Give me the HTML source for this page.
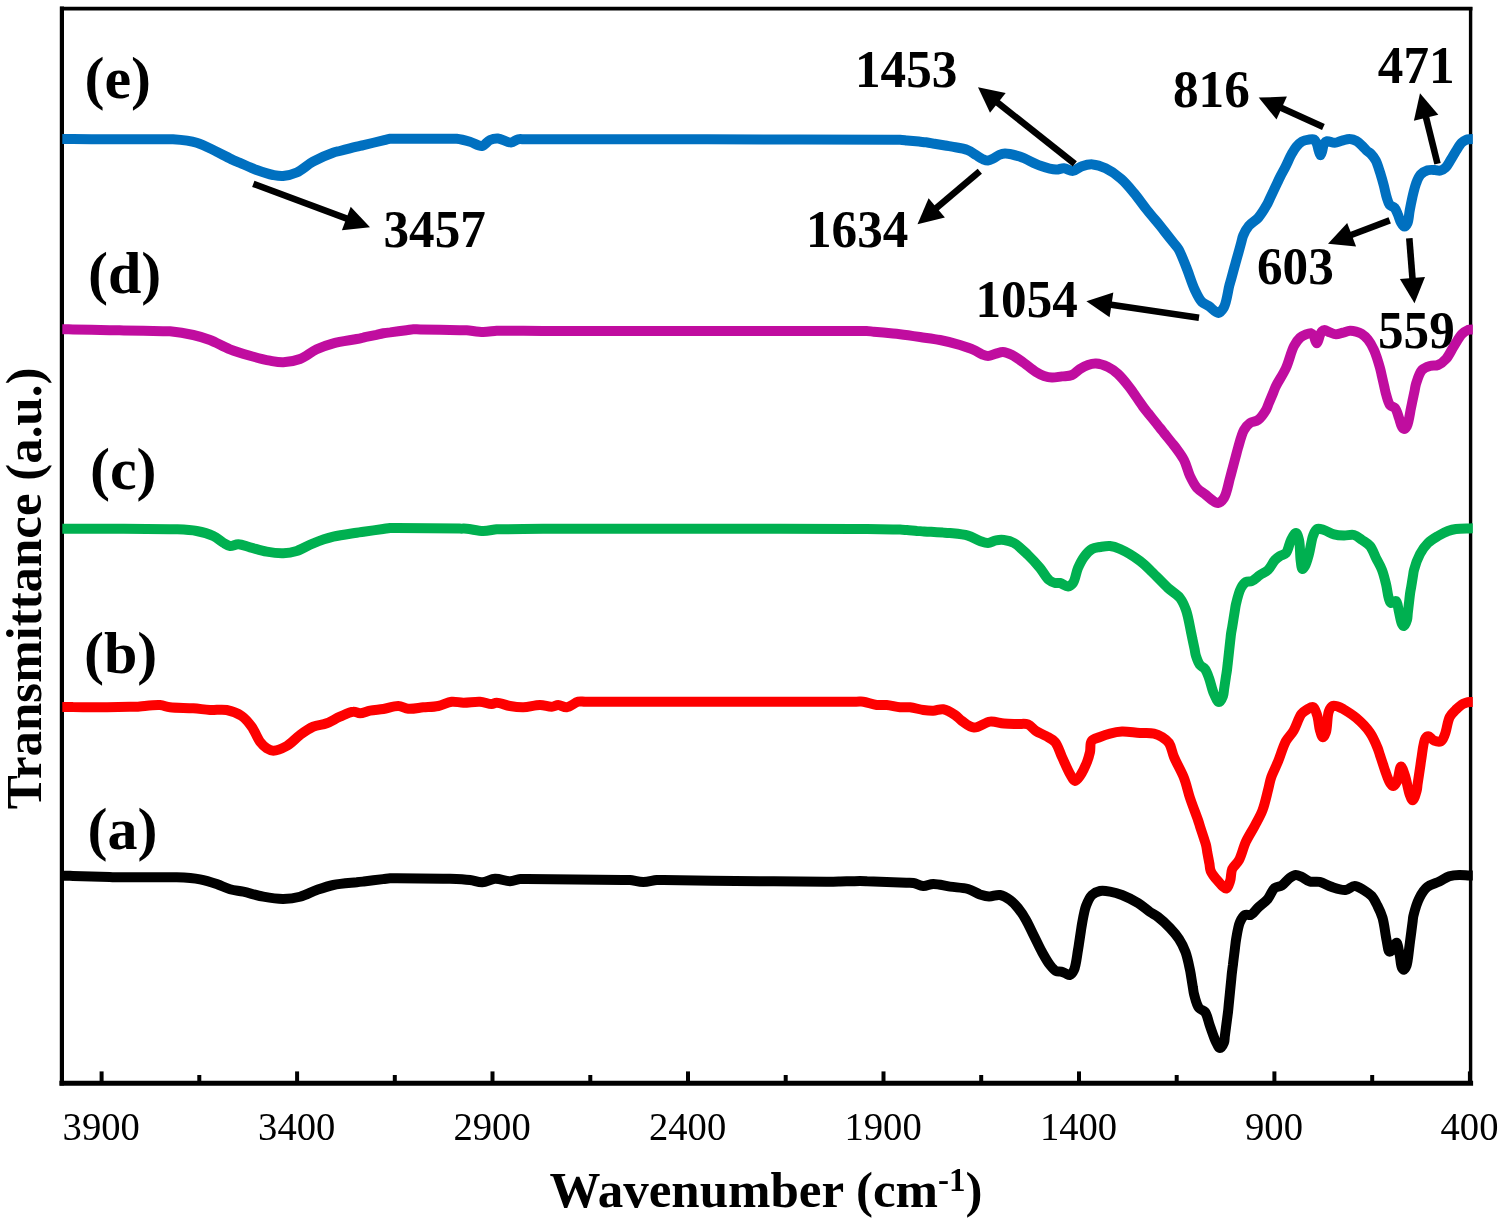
<!DOCTYPE html>
<html lang="en"><head><meta charset="utf-8"><title>FTIR spectra</title>
<style>
html,body{margin:0;padding:0;background:#fff;}
body{width:1499px;height:1230px;overflow:hidden;}
svg{display:block;}
text{font-family:"Liberation Serif",serif;fill:#000;}
.b{font-weight:bold;}
.tk{font-size:38.6px;text-anchor:middle;}
.an{font-size:51.2px;font-weight:bold;}
.lb{font-size:60px;font-weight:bold;}
.ax{font-size:51px;font-weight:bold;text-anchor:middle;}
</style></head><body>
<svg width="1499" height="1230" viewBox="0 0 1499 1230">
<rect width="1499" height="1230" fill="#fff"/>

<g stroke="#000" stroke-linecap="square"><line x1="61.9" y1="8.6" x2="1470.6" y2="8.6" stroke-width="3.7"/><line x1="1470.6" y1="8.6" x2="1470.6" y2="1083.3" stroke-width="3.4"/><line x1="61.9" y1="8.6" x2="61.9" y2="1083.3" stroke-width="4.2"/><line x1="61.9" y1="1083.3" x2="1470.6" y2="1083.3" stroke-width="5"/></g>
<g stroke="#000" stroke-width="4"><line x1="101.6" y1="1071.4" x2="101.6" y2="1083.3"/><line x1="199.3" y1="1075" x2="199.3" y2="1083.3"/><line x1="297.1" y1="1071.4" x2="297.1" y2="1083.3"/><line x1="394.8" y1="1075" x2="394.8" y2="1083.3"/><line x1="492.5" y1="1071.4" x2="492.5" y2="1083.3"/><line x1="590.3" y1="1075" x2="590.3" y2="1083.3"/><line x1="688.0" y1="1071.4" x2="688.0" y2="1083.3"/><line x1="785.7" y1="1075" x2="785.7" y2="1083.3"/><line x1="883.5" y1="1071.4" x2="883.5" y2="1083.3"/><line x1="981.2" y1="1075" x2="981.2" y2="1083.3"/><line x1="1079.0" y1="1071.4" x2="1079.0" y2="1083.3"/><line x1="1176.7" y1="1075" x2="1176.7" y2="1083.3"/><line x1="1274.4" y1="1071.4" x2="1274.4" y2="1083.3"/><line x1="1372.2" y1="1075" x2="1372.2" y2="1083.3"/><line x1="1469.9" y1="1071.4" x2="1469.9" y2="1083.3"/></g>
<g fill="none" stroke-width="10" stroke-linejoin="round" stroke-linecap="butt">
<path d="M62.3 875.7C63.5 875.7 64.6 875.7 66.0 875.7C68.0 875.7 69.7 875.8 73.0 875.9C80.4 876.2 102.3 876.8 109.7 877.1C113.0 877.2 114.4 877.3 116.7 877.3C119.0 877.3 120.3 877.3 123.7 877.3C132.3 877.3 161.1 877.3 169.7 877.3C173.1 877.3 173.7 877.2 176.7 877.3C182.2 877.5 192.9 878.0 200.0 879.3C206.1 880.4 211.5 882.2 216.7 884.0C221.4 885.6 225.5 888.0 230.0 889.3C234.4 890.6 238.4 890.7 243.3 891.7C249.3 893.0 256.6 895.5 263.3 896.7C269.9 897.9 276.9 899.1 283.3 899.0C289.1 898.9 294.5 898.2 300.0 896.7C305.7 895.2 311.1 892.0 316.7 890.0C322.2 888.1 327.2 886.3 333.3 885.0C340.4 883.5 351.2 882.9 356.7 882.3C359.7 881.9 360.8 881.8 363.7 881.5C368.5 880.9 378.2 879.7 383.0 879.1C385.9 878.8 387.7 878.4 390.0 878.3C392.3 878.2 393.6 878.3 397.0 878.3C405.6 878.4 434.4 878.6 443.0 878.7C446.4 878.7 447.1 878.6 450.0 878.7C455.0 878.9 464.2 879.3 470.0 880.0C474.6 880.6 478.2 882.5 482.3 882.3C486.5 882.1 490.6 878.9 495.0 878.7C499.8 878.4 505.5 881.3 510.0 881.2C513.7 881.1 516.9 879.3 520.0 879.0C522.5 878.7 523.3 879.0 527.0 879.1C540.6 879.2 609.4 879.8 623.0 879.9C626.7 880.0 627.3 879.8 630.0 880.0C633.7 880.3 638.9 882.0 643.3 882.0C647.8 882.0 652.9 880.3 656.7 880.0C659.4 879.8 660.0 880.0 663.7 880.1C677.3 880.2 746.1 881.1 759.7 881.2C763.4 881.3 764.4 881.3 766.7 881.3C769.0 881.3 770.3 881.3 773.7 881.3C783.1 881.4 816.9 881.6 826.3 881.7C829.7 881.7 831.0 881.7 833.3 881.7C835.6 881.7 837.6 881.6 840.3 881.5C843.9 881.4 849.4 881.3 853.0 881.2C855.7 881.1 857.7 881.0 860.0 881.0C862.3 881.0 863.7 881.1 867.0 881.3C874.8 881.6 898.5 882.4 906.3 882.7C909.6 882.9 910.8 882.6 913.3 883.0C916.4 883.5 919.9 885.8 923.3 886.0C926.6 886.2 929.5 884.1 933.3 884.0C938.1 883.9 944.3 885.8 950.0 886.6C955.9 887.5 962.7 887.5 968.0 889.0C972.5 890.3 976.2 893.1 980.0 894.4C983.2 895.4 985.8 896.3 989.0 896.4C992.5 896.6 996.5 894.4 1000.0 895.0C1003.5 895.6 1007.0 897.8 1010.0 900.0C1013.0 902.2 1015.5 904.9 1018.0 908.0C1020.8 911.5 1023.5 915.6 1026.0 920.0C1028.8 924.9 1031.3 930.7 1034.0 936.0C1036.7 941.3 1039.2 947.0 1042.0 952.0C1044.6 956.6 1047.3 961.6 1050.0 965.0C1052.0 967.5 1053.9 970.0 1056.0 971.0C1057.6 971.8 1059.4 971.2 1061.0 971.6C1062.7 972.0 1064.4 973.0 1066.0 973.6C1067.4 974.1 1068.8 975.4 1070.0 975.0C1071.5 974.6 1072.9 972.4 1074.0 970.0C1076.0 965.7 1077.1 954.9 1078.0 950.0C1078.5 947.1 1078.7 945.7 1079.1 943.1C1079.6 939.6 1080.4 934.4 1080.9 930.9C1081.3 928.3 1081.5 926.8 1082.0 924.0C1082.9 919.4 1084.1 911.1 1086.0 906.0C1087.6 901.8 1089.4 897.5 1092.0 895.0C1094.2 892.9 1097.1 891.6 1100.0 891.0C1103.1 890.4 1106.5 891.0 1110.0 891.6C1113.9 892.3 1117.8 893.4 1122.0 895.0C1127.0 897.0 1133.2 900.0 1138.0 903.0C1142.4 905.7 1146.4 909.5 1150.0 912.0C1152.9 914.0 1155.2 914.8 1158.0 917.0C1161.7 919.8 1166.4 924.2 1170.0 928.0C1173.4 931.6 1176.4 935.0 1179.0 939.0C1181.6 943.0 1183.7 947.2 1185.5 952.0C1187.5 957.4 1189.0 965.4 1190.0 970.0C1190.6 972.8 1190.7 974.4 1191.2 976.9C1191.7 980.0 1192.3 984.0 1192.8 987.1C1193.3 989.6 1193.3 991.3 1194.0 994.0C1195.0 997.9 1196.6 1005.0 1199.0 1008.0C1200.7 1010.1 1203.3 1009.9 1205.0 1012.0C1207.4 1015.0 1208.2 1021.2 1210.0 1026.0C1211.9 1031.2 1214.0 1038.0 1216.0 1042.0C1217.3 1044.6 1218.6 1048.0 1220.0 1048.0C1221.3 1048.0 1223.2 1044.6 1224.0 1042.5C1224.8 1040.4 1224.5 1038.4 1224.9 1035.6C1225.5 1031.2 1226.5 1023.3 1227.1 1018.9C1227.5 1016.1 1227.7 1014.3 1228.0 1012.0C1228.3 1009.7 1228.4 1008.1 1228.7 1005.0C1229.3 999.1 1230.7 984.9 1231.3 979.0C1231.6 975.9 1231.7 974.3 1232.0 972.0C1232.3 969.7 1232.5 967.9 1232.9 965.1C1233.4 960.4 1234.6 951.6 1235.1 946.9C1235.5 944.1 1235.5 942.8 1236.0 940.0C1236.8 935.4 1238.0 926.5 1240.0 922.0C1241.4 919.0 1242.9 916.1 1245.0 915.0C1246.7 914.1 1249.1 915.6 1251.0 914.8C1253.4 913.7 1255.3 910.2 1257.8 907.8C1260.8 905.0 1265.0 902.2 1267.8 898.9C1270.6 895.6 1272.0 890.1 1274.8 887.9C1276.9 886.3 1279.5 886.9 1281.8 885.5C1284.6 883.8 1287.2 879.7 1289.8 877.9C1291.8 876.5 1293.8 875.0 1295.8 874.9C1297.7 874.8 1299.6 876.0 1301.7 876.9C1304.2 878.0 1306.8 880.7 1309.7 881.5C1312.7 882.4 1316.3 881.1 1319.7 881.9C1323.6 882.8 1327.5 885.6 1331.7 886.9C1336.1 888.3 1341.5 890.3 1345.6 889.9C1349.0 889.6 1351.6 885.9 1354.6 885.9C1357.6 885.9 1360.8 888.2 1363.6 889.9C1366.4 891.6 1369.3 893.4 1371.6 895.9C1374.0 898.6 1375.7 902.4 1377.5 905.9C1379.4 909.6 1381.1 913.1 1382.5 917.8C1384.3 923.9 1385.2 933.6 1386.5 939.8C1387.5 944.4 1388.0 951.1 1389.5 951.7C1390.3 952.0 1391.5 950.7 1392.5 949.7C1393.9 948.2 1395.4 942.7 1396.5 942.8C1397.8 943.0 1398.6 949.8 1399.5 953.7C1400.5 958.1 1400.6 965.2 1401.9 967.7C1402.5 968.8 1403.2 969.8 1403.9 969.7C1404.8 969.6 1405.8 967.7 1406.5 965.7C1408.0 961.7 1408.8 950.6 1409.5 945.7C1409.9 942.8 1410.0 941.5 1410.4 938.8C1411.0 934.5 1411.9 927.0 1412.5 922.7C1412.9 920.0 1412.8 918.6 1413.4 915.8C1414.5 911.2 1416.8 903.0 1419.4 897.9C1421.6 893.6 1424.0 889.6 1427.4 886.9C1430.7 884.2 1435.6 883.3 1439.4 881.5C1442.9 879.8 1445.9 877.4 1449.3 876.3C1452.5 875.3 1455.9 875.0 1459.3 874.9C1462.7 874.8 1467.0 875.5 1469.5 875.5C1470.9 875.5 1471.7 875.4 1472.8 875.4" stroke="#000000"/>
<path d="M62.3 707.0C63.5 707.0 64.6 707.0 66.0 707.0C68.0 707.0 70.1 707.0 73.0 707.1C78.0 707.1 88.0 707.2 93.0 707.2C95.9 707.3 97.7 707.3 100.0 707.3C102.3 707.3 104.0 707.2 107.0 707.2C112.4 707.1 124.3 706.9 129.7 706.8C132.7 706.8 133.7 706.8 136.7 706.7C142.2 706.5 153.9 704.5 160.0 705.0C164.1 705.3 165.9 706.8 170.0 707.3C176.1 708.1 186.2 707.8 193.3 708.3C199.3 708.7 204.4 709.7 210.0 710.0C215.6 710.3 221.4 709.0 226.7 710.0C231.9 711.0 237.5 713.1 241.7 716.0C245.7 718.8 248.7 722.6 251.7 726.7C254.9 731.1 257.1 737.9 260.0 741.7C262.2 744.5 264.3 746.8 266.7 748.3C268.8 749.6 270.7 750.7 273.3 750.7C277.0 750.7 282.4 748.4 286.7 746.0C291.4 743.4 295.5 738.3 300.0 735.0C304.3 731.9 308.7 728.7 313.3 726.7C317.6 724.9 322.3 724.9 326.7 723.3C331.2 721.6 335.5 718.6 340.0 716.7C344.4 714.8 349.6 711.9 353.3 711.7C355.9 711.5 357.5 713.3 360.0 713.3C363.0 713.3 366.4 711.4 370.0 710.7C374.1 709.9 378.7 709.7 383.3 709.0C388.2 708.2 393.8 705.9 398.3 706.0C402.0 706.1 404.6 708.4 408.3 708.7C412.8 709.1 418.3 707.8 423.3 707.3C428.3 706.9 433.5 707.0 438.3 706.0C442.9 705.1 447.3 702.2 451.7 701.7C455.7 701.3 459.1 702.6 463.3 702.7C468.4 702.8 474.9 701.4 480.0 701.7C484.3 702.0 488.6 704.1 491.7 704.0C493.7 703.9 494.6 702.7 496.7 702.7C500.1 702.7 505.5 705.2 510.0 706.0C514.4 706.8 518.6 707.4 523.3 707.3C528.6 707.2 534.9 705.0 540.0 705.0C544.2 705.0 548.4 706.9 551.7 706.7C554.2 706.6 556.0 705.0 558.3 705.0C560.9 705.0 563.7 707.6 566.7 707.3C570.3 707.0 574.8 702.5 578.3 701.7C580.9 701.1 581.6 701.7 585.3 701.7C599.9 701.7 678.4 701.7 693.0 701.7C696.7 701.7 697.7 701.7 700.0 701.7C702.3 701.7 703.2 701.7 707.0 701.7C724.7 701.7 838.6 701.7 856.3 701.7C860.1 701.7 860.6 701.4 863.3 701.7C867.1 702.2 872.5 704.5 876.7 705.0C880.2 705.4 883.1 704.7 886.7 705.0C890.8 705.4 895.9 706.9 900.0 707.3C903.6 707.6 906.4 706.9 910.0 707.3C914.1 707.7 919.2 709.4 923.3 710.0C926.9 710.5 930.0 710.8 933.3 710.7C936.6 710.6 939.9 708.8 943.3 709.3C947.1 709.9 951.7 712.8 955.0 715.0C957.8 716.8 959.2 719.1 962.0 721.0C965.4 723.3 969.6 727.3 974.0 727.6C978.9 728.0 984.8 722.2 990.0 721.6C994.8 721.1 999.3 723.2 1004.0 723.6C1008.7 724.0 1013.7 723.9 1018.0 724.0C1021.6 724.1 1025.0 723.3 1028.0 724.4C1031.0 725.6 1033.1 729.1 1036.0 731.0C1039.0 733.0 1042.8 734.1 1046.0 736.0C1049.1 737.8 1052.5 739.1 1055.0 742.0C1058.1 745.6 1059.6 751.8 1062.0 757.0C1064.6 762.5 1067.5 769.7 1070.0 774.0C1071.7 776.9 1073.2 780.9 1075.0 781.0C1076.6 781.1 1078.4 778.3 1080.0 776.0C1082.4 772.6 1085.3 766.3 1087.0 762.0C1088.4 758.5 1089.2 755.4 1090.0 752.0C1090.8 748.4 1089.7 743.5 1091.6 741.0C1093.3 738.7 1097.0 738.2 1100.0 737.0C1103.2 735.7 1106.5 734.5 1110.0 733.6C1113.8 732.6 1117.6 731.8 1122.0 731.6C1127.4 731.4 1134.4 732.7 1140.0 733.0C1145.0 733.3 1150.0 732.7 1154.0 733.6C1157.1 734.3 1159.5 735.5 1162.0 737.0C1164.5 738.6 1167.1 740.3 1169.0 743.0C1171.4 746.5 1171.9 751.9 1174.0 757.0C1176.6 763.4 1181.3 771.0 1184.0 778.0C1186.6 784.6 1187.7 791.2 1190.0 798.0C1192.4 805.2 1196.2 814.8 1198.0 820.0C1199.0 822.9 1199.3 824.1 1200.1 826.7C1201.2 830.0 1202.8 835.0 1203.9 838.3C1204.7 840.9 1205.4 842.7 1206.0 845.0C1206.6 847.3 1206.8 849.3 1207.2 851.9C1207.9 855.4 1208.8 860.6 1209.5 864.1C1209.9 866.7 1209.7 868.6 1210.7 871.0C1212.0 874.1 1215.0 877.8 1217.6 880.7C1220.2 883.6 1224.1 888.9 1226.3 888.5C1228.2 888.1 1229.2 883.6 1230.2 880.7C1231.3 877.3 1230.7 872.5 1232.2 869.0C1233.7 865.7 1237.0 863.9 1239.0 860.2C1241.7 855.3 1243.2 847.5 1245.9 841.7C1248.5 836.2 1251.8 831.3 1254.6 826.1C1257.3 820.9 1260.2 816.2 1262.4 810.5C1264.9 804.0 1266.7 795.1 1268.3 789.0C1269.5 784.5 1269.8 781.4 1271.2 777.3C1272.9 772.4 1275.7 767.3 1278.0 761.7C1280.6 755.4 1282.9 746.8 1285.9 741.2C1288.3 736.9 1291.3 734.6 1293.7 730.5C1296.5 725.7 1298.6 717.5 1301.5 713.9C1303.3 711.6 1305.3 710.6 1307.3 709.4C1309.2 708.3 1311.6 706.5 1313.2 707.1C1315.1 707.8 1316.0 712.0 1317.1 715.2C1318.5 719.4 1318.8 726.5 1320.0 730.5C1320.8 733.3 1321.8 737.2 1322.9 737.3C1323.8 737.4 1325.1 734.7 1325.9 732.4C1327.5 728.0 1327.0 716.1 1328.8 711.5C1329.8 708.8 1331.0 706.5 1332.7 705.8C1334.2 705.2 1336.3 706.1 1338.0 706.6C1339.9 707.2 1341.3 708.0 1343.5 709.2C1346.9 711.2 1352.0 714.3 1356.1 717.8C1360.8 721.8 1366.2 727.2 1369.8 732.4C1373.2 737.3 1375.9 743.8 1377.6 748.0C1378.7 750.6 1379.0 752.2 1379.8 754.6C1380.8 757.7 1382.2 761.8 1383.2 764.9C1384.0 767.3 1384.5 769.0 1385.4 771.5C1386.6 774.9 1388.5 780.7 1390.2 783.2C1391.2 784.6 1392.2 786.2 1393.2 786.1C1394.5 786.0 1396.0 783.4 1397.1 781.2C1398.8 777.8 1399.5 766.7 1401.0 766.6C1402.2 766.5 1403.7 771.8 1404.9 775.4C1406.7 780.6 1408.1 790.5 1409.8 794.9C1410.7 797.3 1411.7 800.3 1412.7 800.3C1414.0 800.2 1415.8 793.9 1416.6 791.0C1417.3 788.6 1417.2 787.0 1417.6 784.1C1418.3 779.2 1419.8 769.6 1420.5 764.7C1420.9 761.8 1421.0 760.7 1421.5 757.8C1422.3 752.9 1423.4 741.3 1425.4 738.3C1426.2 737.0 1427.2 736.3 1428.3 736.3C1429.9 736.3 1432.0 739.8 1434.1 740.6C1436.2 741.4 1439.2 742.1 1441.0 741.2C1442.9 740.2 1443.7 737.3 1444.9 734.4C1446.7 730.0 1447.5 721.1 1449.8 716.8C1451.4 713.8 1453.6 712.0 1455.6 710.0C1457.4 708.2 1459.1 706.4 1461.0 705.2C1462.6 704.1 1464.5 703.3 1466.0 702.8C1467.2 702.4 1468.3 702.1 1469.5 702.0C1470.6 701.9 1471.7 701.9 1472.8 701.9" stroke="#fd0000"/>
<path d="M62.3 528.7C63.5 528.7 64.6 528.7 66.0 528.7C68.0 528.7 69.8 528.7 73.0 528.7C80.4 528.7 102.3 528.7 109.7 528.7C112.9 528.7 114.4 528.7 116.7 528.7C119.0 528.7 120.3 528.7 123.7 528.8C132.3 528.9 161.1 529.1 169.7 529.2C173.1 529.3 173.8 529.2 176.7 529.3C181.7 529.5 190.4 529.8 196.7 531.0C202.6 532.1 208.6 533.8 213.3 536.0C217.2 537.8 220.2 540.9 223.3 542.7C225.7 544.1 227.6 545.7 230.0 546.0C232.6 546.3 235.3 544.2 238.3 544.3C241.9 544.4 245.8 546.2 250.0 547.3C255.1 548.6 261.1 550.7 266.7 551.7C272.2 552.7 278.1 553.5 283.3 553.3C288.0 553.1 292.1 552.4 296.7 551.0C302.0 549.3 307.4 545.6 313.3 543.3C319.6 540.8 326.3 538.4 333.3 536.7C340.7 534.9 351.2 533.6 356.7 532.7C359.7 532.2 360.7 532.1 363.6 531.7C368.5 531.0 378.2 529.7 383.1 529.0C386.0 528.6 387.7 528.2 390.0 528.0C392.3 527.8 393.5 528.0 397.0 528.1C407.5 528.2 449.2 528.5 459.7 528.6C463.2 528.7 463.9 528.5 466.7 528.7C471.1 529.0 478.1 531.0 483.3 531.0C488.0 531.0 492.9 529.6 496.7 529.3C499.4 529.1 500.4 529.3 503.7 529.2C511.5 529.1 535.2 528.9 543.0 528.8C546.3 528.7 547.7 528.7 550.0 528.7C552.3 528.7 553.2 528.7 557.0 528.7C573.8 528.7 676.2 528.7 693.0 528.7C696.8 528.7 697.7 528.7 700.0 528.7C702.3 528.7 703.2 528.7 707.0 528.7C724.5 528.7 835.5 528.9 853.0 528.9C856.8 528.9 857.7 528.9 860.0 528.9C862.3 528.9 863.9 529.0 867.0 529.0C872.9 529.1 887.1 529.4 893.0 529.5C896.1 529.5 897.7 529.5 900.0 529.6C902.3 529.7 904.4 529.9 907.0 530.1C910.0 530.4 914.0 530.6 917.0 530.9C919.6 531.1 921.7 531.2 924.0 531.4C926.3 531.6 928.3 531.7 931.0 531.8C934.5 532.0 939.5 532.4 943.0 532.6C945.7 532.7 947.1 532.7 950.0 533.0C954.6 533.5 962.7 534.1 968.0 535.6C972.5 536.9 976.4 539.7 980.0 541.0C982.9 542.0 985.3 543.1 988.0 543.0C990.7 542.9 993.3 540.9 996.0 540.4C998.6 539.9 1001.2 539.7 1004.0 540.0C1007.2 540.4 1010.6 541.1 1014.0 543.0C1018.5 545.5 1023.6 550.8 1028.0 555.0C1032.3 559.1 1036.4 563.7 1040.0 568.0C1043.3 572.0 1046.0 577.5 1049.0 580.0C1051.0 581.7 1053.0 582.5 1055.0 583.0C1056.7 583.4 1058.2 582.6 1060.0 583.0C1062.4 583.5 1065.7 586.6 1068.0 586.4C1069.9 586.2 1071.6 584.9 1073.0 583.0C1075.3 580.0 1076.0 572.5 1078.0 568.0C1079.8 564.0 1081.6 560.2 1084.0 557.0C1086.3 553.9 1089.1 550.6 1092.0 549.0C1094.5 547.6 1097.2 547.5 1100.0 547.0C1103.1 546.5 1106.7 545.7 1110.0 546.0C1113.4 546.3 1116.2 547.3 1120.0 549.0C1125.7 551.5 1134.4 556.8 1140.0 561.0C1144.7 564.5 1147.8 567.9 1152.0 572.0C1157.0 576.8 1163.0 583.4 1168.0 588.0C1172.2 591.8 1177.0 594.2 1180.0 598.0C1182.8 601.6 1184.3 605.3 1186.0 610.0C1188.2 616.1 1189.9 626.7 1191.0 632.0C1191.6 634.9 1191.9 636.3 1192.4 638.9C1193.1 641.9 1193.9 646.1 1194.6 649.1C1195.1 651.7 1195.2 653.6 1196.0 656.0C1196.9 658.8 1198.3 662.7 1200.0 665.0C1201.4 666.8 1203.6 667.2 1205.0 669.0C1206.7 671.3 1207.7 674.5 1209.0 678.0C1210.7 682.5 1212.0 689.7 1214.0 694.0C1215.5 697.2 1217.4 702.0 1219.0 702.0C1220.4 702.0 1222.2 698.2 1223.0 696.0C1223.8 693.9 1223.7 691.7 1224.1 689.1C1224.6 685.6 1225.4 680.4 1225.9 676.9C1226.3 674.3 1226.7 672.3 1227.0 670.0C1227.3 667.7 1227.4 666.0 1227.8 663.0C1228.4 657.7 1229.6 646.3 1230.2 641.0C1230.6 638.0 1230.7 636.3 1231.0 634.0C1231.3 631.7 1231.7 629.9 1232.2 627.1C1232.9 622.8 1234.1 615.2 1234.8 610.9C1235.3 608.1 1235.3 606.8 1236.0 604.0C1237.0 599.7 1238.9 591.9 1241.0 588.0C1242.5 585.3 1244.0 583.1 1246.0 582.0C1247.8 581.0 1250.0 581.9 1252.0 581.0C1254.6 579.9 1257.3 576.9 1260.0 575.0C1262.6 573.2 1265.6 572.3 1268.0 570.0C1270.7 567.4 1272.7 562.5 1275.0 560.0C1276.7 558.2 1278.2 557.2 1280.0 556.0C1281.9 554.8 1284.3 554.8 1286.0 553.0C1288.4 550.4 1289.1 543.6 1291.0 540.0C1292.5 537.2 1294.6 532.9 1296.0 533.0C1297.3 533.1 1298.3 537.0 1299.0 540.0C1300.2 544.9 1299.9 554.7 1300.6 560.0C1301.1 563.6 1301.4 568.7 1302.4 569.0C1303.1 569.2 1304.2 567.4 1305.0 566.0C1306.5 563.4 1307.8 558.4 1309.0 554.0C1310.5 548.6 1311.3 540.5 1313.0 536.0C1314.2 533.0 1315.1 529.9 1317.0 529.0C1318.8 528.1 1321.5 529.3 1324.0 530.0C1327.1 530.9 1330.6 533.5 1334.0 534.4C1337.3 535.3 1340.7 535.5 1344.0 535.6C1347.3 535.7 1351.0 534.2 1354.0 535.0C1356.9 535.8 1359.4 538.2 1362.0 540.0C1364.7 541.9 1367.8 543.3 1370.0 546.0C1372.6 549.1 1374.0 554.0 1376.0 558.0C1378.0 562.0 1380.4 565.8 1382.0 570.0C1383.7 574.4 1384.8 579.2 1386.0 584.0C1387.2 588.9 1387.8 595.6 1389.0 599.0C1389.6 600.8 1389.9 602.6 1391.0 603.0C1392.2 603.4 1394.7 600.4 1396.0 601.0C1397.8 601.9 1398.0 608.2 1399.0 612.0C1400.0 615.9 1400.7 621.8 1402.0 624.0C1402.6 625.1 1403.3 626.1 1404.0 626.0C1405.0 625.8 1406.4 622.1 1407.0 620.0C1407.6 617.8 1407.5 615.7 1407.8 613.0C1408.2 609.6 1408.8 604.4 1409.2 601.0C1409.5 598.3 1409.7 596.3 1410.0 594.0C1410.3 591.7 1410.7 589.6 1411.2 587.1C1411.7 584.0 1412.3 580.0 1412.8 576.9C1413.3 574.4 1413.3 572.7 1414.0 570.0C1415.1 565.7 1417.5 558.7 1420.0 554.0C1422.3 549.8 1424.9 546.0 1428.0 543.0C1430.9 540.1 1434.6 538.0 1438.0 536.0C1441.3 534.1 1444.8 532.2 1448.0 531.0C1450.8 530.0 1453.0 529.4 1456.0 529.0C1459.9 528.4 1466.5 528.5 1469.5 528.4C1471.0 528.3 1471.7 528.3 1472.8 528.3" stroke="#00b050"/>
<path d="M62.3 329.3C63.5 329.3 64.6 329.3 66.0 329.3C68.0 329.3 69.8 329.4 73.0 329.4C80.4 329.6 102.3 330.0 109.7 330.2C112.9 330.2 114.4 330.3 116.7 330.3C119.0 330.3 120.4 330.4 123.7 330.4C131.5 330.6 155.2 331.0 163.0 331.2C166.3 331.2 167.0 331.0 170.0 331.3C175.5 331.8 186.2 333.4 193.3 335.0C199.4 336.4 204.3 337.8 210.0 340.0C216.5 342.5 223.2 346.7 230.0 349.3C236.6 351.9 243.3 353.8 250.0 355.7C256.6 357.6 264.0 359.6 270.0 360.7C274.9 361.6 278.6 362.5 283.3 362.3C288.6 362.1 294.6 361.0 300.0 359.0C305.8 356.8 311.0 351.9 316.7 349.3C322.1 346.8 327.2 344.9 333.3 343.3C340.4 341.4 351.2 340.1 356.7 339.0C359.7 338.4 360.9 338.1 363.5 337.5C367.2 336.8 372.8 335.5 376.5 334.8C379.1 334.2 381.0 333.7 383.3 333.3C385.6 332.9 387.4 332.7 390.2 332.4C394.5 331.8 402.1 330.8 406.4 330.2C409.2 329.9 411.0 329.4 413.3 329.3C415.6 329.2 417.0 329.4 420.3 329.4C428.1 329.6 451.9 330.0 459.7 330.2C463.0 330.2 463.9 330.1 466.7 330.3C471.1 330.6 478.1 332.0 483.3 332.0C488.0 332.0 492.9 330.9 496.7 330.7C499.4 330.6 500.4 330.7 503.7 330.7C511.5 330.8 535.2 330.9 543.0 331.0C546.3 331.0 547.7 331.0 550.0 331.0C552.3 331.0 553.2 331.0 557.0 331.0C573.8 331.0 676.2 331.0 693.0 331.0C696.8 331.0 697.7 331.0 700.0 331.0C702.3 331.0 703.2 331.0 707.0 331.0C725.0 331.0 841.7 331.0 859.7 331.0C863.5 331.0 864.4 330.9 866.7 331.0C869.0 331.1 870.8 331.4 873.7 331.7C878.5 332.1 888.2 333.1 893.0 333.5C895.9 333.8 897.1 333.9 900.0 334.2C905.0 334.8 913.3 336.0 920.0 337.0C926.7 338.0 933.4 338.7 940.0 340.0C946.7 341.3 954.0 343.2 960.0 345.0C965.1 346.6 970.0 348.2 974.0 350.0C977.1 351.4 979.5 353.4 982.0 354.4C984.1 355.2 985.9 356.0 988.0 356.0C990.5 356.0 993.4 354.3 996.0 353.6C998.4 353.0 1000.5 351.9 1003.0 352.0C1005.8 352.1 1008.9 353.5 1012.0 355.0C1015.8 356.9 1020.0 360.2 1024.0 363.0C1028.0 365.9 1032.3 369.7 1036.0 372.0C1038.9 373.8 1041.3 375.1 1044.0 376.0C1046.6 376.9 1049.2 377.5 1052.0 377.6C1055.1 377.7 1058.7 376.8 1062.0 376.4C1065.3 376.0 1069.0 376.2 1072.0 375.0C1075.0 373.8 1077.3 370.7 1080.0 369.0C1082.6 367.4 1085.3 365.9 1088.0 365.0C1090.6 364.1 1093.1 363.4 1096.0 363.6C1099.6 363.8 1104.3 365.3 1108.0 367.0C1111.6 368.7 1114.7 371.0 1118.0 374.0C1122.1 377.7 1127.1 384.3 1130.0 388.0C1131.8 390.3 1132.5 391.6 1134.0 393.7C1135.8 396.3 1138.2 399.7 1140.0 402.3C1141.5 404.4 1142.6 406.1 1144.0 408.0C1145.4 409.9 1146.7 411.4 1148.4 413.5C1150.5 416.1 1153.5 419.9 1155.6 422.5C1157.3 424.6 1158.5 426.2 1160.0 428.0C1161.5 429.8 1162.7 431.4 1164.4 433.5C1166.5 436.1 1169.5 439.9 1171.6 442.5C1173.3 444.6 1174.4 445.8 1176.0 448.0C1178.3 451.2 1181.7 455.6 1184.0 460.0C1186.5 464.8 1187.7 471.1 1190.0 476.0C1192.1 480.4 1194.2 484.7 1197.0 488.0C1199.6 490.9 1203.3 492.8 1206.0 495.0C1208.2 496.8 1209.9 498.6 1212.0 500.0C1213.9 501.3 1216.1 503.2 1218.0 503.0C1220.1 502.8 1222.3 500.6 1224.0 498.0C1226.8 493.8 1228.6 482.9 1230.0 478.0C1230.8 475.2 1231.1 474.0 1231.8 471.2C1232.9 466.9 1235.1 459.1 1236.2 454.8C1236.9 452.0 1237.2 450.8 1238.0 448.0C1239.4 443.4 1241.5 434.4 1244.0 430.0C1245.8 426.9 1247.6 424.7 1250.0 423.0C1252.3 421.4 1255.6 421.8 1258.0 420.0C1261.0 417.8 1264.2 413.1 1266.0 410.0C1267.4 407.7 1267.7 406.0 1268.7 403.5C1270.0 400.3 1272.0 395.7 1273.3 392.5C1274.3 390.0 1274.7 388.6 1276.0 386.0C1278.2 381.5 1283.1 374.4 1286.0 368.0C1289.1 361.1 1291.1 351.4 1294.0 346.0C1295.9 342.4 1297.8 339.8 1300.0 337.8C1301.8 336.2 1304.0 335.2 1306.0 334.4C1307.7 333.7 1309.7 332.9 1311.0 333.2C1312.1 333.5 1312.9 334.5 1313.6 335.5C1314.4 336.8 1314.7 339.1 1315.3 340.5C1315.8 341.6 1316.3 343.3 1316.8 343.3C1317.3 343.3 1317.8 341.6 1318.3 340.5C1318.9 339.0 1319.3 336.6 1320.0 335.0C1320.6 333.6 1321.1 332.0 1322.0 331.2C1322.7 330.5 1323.5 330.0 1324.5 330.0C1326.0 330.0 1328.1 331.7 1330.0 332.4C1331.9 333.1 1333.9 334.2 1336.0 334.3C1338.2 334.4 1340.7 333.2 1343.0 332.6C1345.3 332.0 1347.7 330.9 1350.0 330.8C1352.1 330.7 1354.1 331.1 1356.0 331.6C1357.9 332.1 1359.7 332.7 1361.5 333.8C1363.7 335.2 1366.0 337.2 1368.0 339.6C1370.3 342.4 1372.2 346.0 1374.0 350.0C1376.3 355.1 1378.7 363.4 1380.0 368.0C1380.8 370.8 1381.0 372.2 1381.6 374.8C1382.4 378.3 1383.6 383.7 1384.4 387.2C1385.0 389.8 1385.3 391.5 1386.0 394.0C1387.0 397.3 1388.1 402.7 1390.0 405.0C1391.4 406.7 1393.6 406.4 1395.0 408.0C1396.9 410.2 1397.8 414.7 1399.0 418.0C1400.1 421.1 1400.9 425.2 1402.0 427.0C1402.6 428.0 1403.3 429.0 1404.0 429.0C1404.9 429.0 1406.1 427.6 1407.0 426.0C1408.8 422.6 1410.0 412.6 1411.0 408.0C1411.6 405.2 1411.9 403.7 1412.4 401.1C1413.1 398.1 1413.9 393.9 1414.6 390.9C1415.1 388.3 1415.2 386.6 1416.0 384.0C1417.2 380.1 1419.2 373.0 1422.0 370.0C1424.2 367.7 1427.3 366.8 1430.0 366.0C1432.6 365.2 1435.5 366.0 1438.0 365.0C1440.8 363.9 1443.6 361.7 1446.0 359.0C1449.0 355.7 1451.3 350.2 1454.0 346.0C1456.6 341.9 1459.2 336.8 1462.0 334.0C1464.0 332.0 1466.6 330.6 1468.0 330.0C1468.6 329.7 1468.9 329.7 1469.5 329.6C1470.4 329.5 1471.7 329.5 1472.8 329.5" stroke="#c00d9f"/>
<path d="M62.3 139.0C63.5 139.0 64.6 139.0 66.0 139.0C68.0 139.0 69.8 139.0 73.0 139.0C80.4 139.1 102.3 139.2 109.7 139.3C112.9 139.3 114.4 139.3 116.7 139.3C119.0 139.3 120.4 139.3 123.7 139.3C131.9 139.3 157.8 139.3 166.0 139.3C169.3 139.3 170.0 139.1 173.0 139.3C178.6 139.7 189.3 140.5 196.7 142.7C203.8 144.8 210.4 148.7 216.7 151.7C222.4 154.5 228.8 158.0 233.0 160.0C235.6 161.2 237.0 161.7 239.4 162.7C242.6 164.0 247.1 166.0 250.3 167.3C252.7 168.3 254.0 169.0 256.7 170.0C260.9 171.5 268.2 174.0 273.0 175.0C276.7 175.7 279.4 176.3 283.0 176.0C287.2 175.7 292.1 174.5 296.7 172.5C302.1 170.1 307.1 164.9 313.0 161.7C319.2 158.3 328.0 154.4 333.0 152.7C335.8 151.7 337.3 151.6 339.8 151.0C342.8 150.2 346.9 149.2 349.9 148.4C352.4 147.8 354.4 147.3 356.7 146.7C359.0 146.1 360.7 145.8 363.5 145.1C368.4 143.9 378.3 141.6 383.2 140.4C386.0 139.7 387.7 139.1 390.0 138.8C392.3 138.5 393.6 138.8 397.0 138.8C406.4 138.8 440.3 138.8 449.7 138.8C453.1 138.8 454.0 138.5 456.7 138.8C460.4 139.2 465.7 140.5 470.0 141.7C474.1 142.9 478.5 146.5 482.0 146.0C485.1 145.5 487.2 141.2 490.0 140.0C492.5 138.9 495.0 138.3 498.0 138.5C501.8 138.7 507.4 142.7 511.0 142.5C513.7 142.3 515.6 139.8 518.0 139.3C520.3 138.8 522.1 139.3 525.0 139.3C529.6 139.3 538.4 139.3 543.0 139.3C545.9 139.3 547.7 139.3 550.0 139.3C552.3 139.3 553.2 139.3 557.0 139.3C573.8 139.3 676.2 139.3 693.0 139.3C696.8 139.3 697.7 139.3 700.0 139.3C702.3 139.3 703.1 139.3 707.0 139.3C727.1 139.4 872.9 139.7 893.0 139.8C896.9 139.8 897.7 139.7 900.0 139.8C902.3 139.9 904.3 140.2 907.0 140.5C910.4 140.8 915.6 141.3 919.0 141.6C921.7 141.9 923.7 142.0 926.0 142.3C928.3 142.6 930.3 143.0 932.9 143.5C936.4 144.1 941.6 144.9 945.1 145.5C947.7 146.0 949.2 146.2 952.0 146.7C956.2 147.5 963.4 148.4 967.7 150.1C971.0 151.4 973.4 153.4 976.0 155.0C978.3 156.4 980.4 158.1 982.5 159.0C984.4 159.8 986.2 160.7 988.0 160.6C989.8 160.5 991.7 159.3 993.5 158.4C995.4 157.5 997.1 155.8 999.0 155.0C1000.9 154.2 1002.6 153.5 1005.0 153.4C1008.8 153.3 1014.5 154.9 1019.7 156.6C1026.1 158.7 1034.0 163.5 1040.5 165.7C1046.0 167.6 1051.7 169.4 1056.0 169.6C1059.1 169.7 1061.3 168.1 1064.0 168.3C1066.9 168.5 1070.1 171.2 1073.0 170.9C1076.1 170.6 1078.8 167.3 1082.0 166.2C1085.3 165.1 1088.9 164.2 1092.6 164.4C1096.7 164.7 1101.2 166.2 1105.6 168.3C1110.7 170.7 1116.3 174.6 1121.0 178.7C1125.8 182.8 1129.8 187.9 1134.0 193.0C1138.4 198.3 1142.6 204.5 1147.0 210.0C1151.3 215.4 1156.8 221.7 1160.0 225.6C1161.8 227.9 1162.6 228.9 1164.3 231.1C1166.9 234.4 1171.5 240.2 1174.1 243.5C1175.8 245.7 1176.9 246.5 1178.4 249.0C1181.0 253.3 1183.9 261.4 1186.6 268.0C1189.4 275.0 1192.0 283.9 1194.9 290.0C1197.1 294.7 1199.1 299.2 1201.8 301.9C1203.9 304.0 1206.2 304.4 1208.7 306.0C1211.7 308.0 1215.7 313.1 1218.4 312.9C1220.6 312.7 1222.3 310.1 1223.9 307.4C1226.6 302.7 1228.0 290.5 1229.4 285.3C1230.2 282.4 1230.6 281.1 1231.3 278.6C1232.2 275.2 1233.5 270.5 1234.4 267.1C1235.1 264.6 1235.7 262.6 1236.3 260.4C1236.9 258.2 1237.5 256.2 1238.2 253.7C1239.1 250.3 1240.4 245.6 1241.3 242.2C1242.0 239.7 1242.2 237.9 1243.2 235.5C1244.5 232.5 1246.4 228.8 1248.8 225.9C1251.4 222.8 1255.5 220.9 1258.4 217.6C1261.5 214.0 1264.7 208.6 1266.7 205.1C1268.1 202.7 1268.5 201.4 1269.7 198.8C1271.7 194.6 1275.5 186.6 1277.5 182.4C1278.7 179.8 1279.3 178.4 1280.5 176.1C1281.9 173.3 1283.8 170.1 1285.5 166.7C1287.6 162.6 1289.9 156.9 1292.0 153.3C1293.5 150.7 1294.6 148.7 1296.3 146.7C1298.0 144.7 1299.9 142.7 1302.0 141.5C1304.0 140.4 1306.6 139.9 1308.7 139.6C1310.6 139.3 1312.6 138.7 1314.0 139.4C1315.3 140.1 1316.0 141.9 1316.8 143.5C1317.7 145.6 1318.1 148.9 1318.8 151.0C1319.3 152.6 1319.9 155.3 1320.5 155.3C1321.1 155.3 1321.7 152.6 1322.2 151.0C1322.9 148.9 1323.0 145.5 1324.0 143.8C1324.8 142.6 1325.7 141.5 1327.0 141.2C1328.9 140.7 1332.2 142.9 1334.7 142.8C1337.2 142.7 1339.5 141.2 1342.0 140.6C1344.6 140.0 1347.5 138.8 1350.0 139.0C1352.4 139.1 1354.6 140.0 1356.7 141.2C1359.1 142.5 1361.4 145.2 1363.3 147.0C1364.7 148.4 1365.7 149.6 1367.0 150.8C1368.3 152.0 1369.7 152.6 1371.0 154.0C1372.6 155.7 1374.3 157.8 1375.7 160.4C1377.5 163.8 1378.8 168.7 1380.2 172.9C1381.5 177.1 1382.7 181.3 1383.8 185.5C1384.9 189.7 1385.8 194.5 1386.9 198.0C1387.7 200.6 1388.2 203.1 1389.6 204.8C1390.8 206.3 1393.2 206.3 1394.5 207.8C1396.1 209.5 1397.0 212.6 1398.1 215.0C1399.1 217.3 1399.6 220.1 1400.8 222.1C1401.8 223.9 1403.2 226.6 1404.4 226.6C1405.5 226.6 1406.7 224.7 1407.5 223.0C1408.8 220.2 1408.9 214.7 1409.7 210.5C1410.5 206.1 1411.4 201.6 1412.4 197.1C1413.5 192.6 1414.5 187.7 1416.0 183.7C1417.3 180.3 1418.4 177.0 1420.5 174.7C1422.4 172.6 1425.1 171.1 1427.6 170.3C1429.9 169.6 1432.6 169.9 1434.8 170.0C1436.7 170.1 1438.4 171.0 1440.1 170.7C1442.0 170.3 1443.9 169.1 1445.5 167.6C1447.6 165.7 1449.1 162.3 1450.9 159.5C1452.7 156.6 1454.4 153.4 1456.2 150.6C1457.9 147.9 1459.7 144.7 1461.6 142.8C1463.0 141.4 1464.6 140.4 1466.1 139.8C1467.3 139.3 1468.4 139.3 1469.5 139.2C1470.6 139.1 1471.7 139.1 1472.8 139.1" stroke="#0070c0"/>
</g>
<text class="tk" transform="translate(101.2 1140.2) scale(1 1.04)">3900</text>
<text class="tk" transform="translate(296.7 1140.2) scale(1 1.04)">3400</text>
<text class="tk" transform="translate(492.1 1140.2) scale(1 1.04)">2900</text>
<text class="tk" transform="translate(687.6 1140.2) scale(1 1.04)">2400</text>
<text class="tk" transform="translate(883.1 1140.2) scale(1 1.04)">1900</text>
<text class="tk" transform="translate(1078.5 1140.2) scale(1 1.04)">1400</text>
<text class="tk" transform="translate(1274.0 1140.2) scale(1 1.04)">900</text>
<text class="tk" transform="translate(1469.5 1140.2) scale(1 1.04)">400</text>
<text class="ax" x="766" y="1206.5">Wavenumber (cm<tspan font-size="33" dy="-16">-1</tspan><tspan dy="16">)</tspan></text>
<text class="ax" style="font-size:50.9px" transform="translate(41 588.4) rotate(-90)">Transmittance (a.u.)</text>
<text class="lb" x="84.5" y="98">(e)</text>
<text class="lb" x="88" y="292.5">(d)</text>
<text class="lb" x="90" y="488.5">(c)</text>
<text class="lb" x="84" y="672.5">(b)</text>
<text class="lb" x="87.5" y="848.5">(a)</text>
<text class="an" transform="translate(383.5 247.3) scale(1 1.025)">3457</text>
<text class="an" transform="translate(806 247.2) scale(1 1.025)">1634</text>
<text class="an" transform="translate(855 86.6) scale(1 1.025)">1453</text>
<text class="an" transform="translate(975.5 316.9) scale(1 1.025)">1054</text>
<text class="an" transform="translate(1173 106.8) scale(1 1.025)">816</text>
<text class="an" transform="translate(1377.8 83.4) scale(1 1.025)">471</text>
<text class="an" transform="translate(1257 283.5) scale(1 1.025)">603</text>
<text class="an" transform="translate(1378 347.8) scale(1 1.025)">559</text>
<line x1="253.3" y1="183.8" x2="348.2" y2="219.2" stroke="#000" stroke-width="6.6"/><polygon points="370.0,227.3 341.9,230.3 350.7,206.7" fill="#000"/>
<line x1="979.8" y1="171.2" x2="935.2" y2="209.1" stroke="#000" stroke-width="6.6"/><polygon points="917.5,224.2 928.6,198.2 944.9,217.4" fill="#000"/>
<line x1="1074.8" y1="163.8" x2="996.3" y2="101.7" stroke="#000" stroke-width="6.6"/><polygon points="978.0,87.2 1005.7,93.0 990.0,112.8" fill="#000"/>
<line x1="1199.0" y1="317.7" x2="1109.5" y2="304.6" stroke="#000" stroke-width="6.6"/><polygon points="1086.4,301.2 1113.3,292.4 1109.6,317.3" fill="#000"/>
<line x1="1323.4" y1="127.1" x2="1279.9" y2="107.3" stroke="#000" stroke-width="6.6"/><polygon points="1258.7,97.6 1286.9,96.6 1276.5,119.6" fill="#000"/>
<line x1="1437.5" y1="163.7" x2="1425.6" y2="115.8" stroke="#000" stroke-width="6.6"/><polygon points="1420.0,93.2 1438.3,114.7 1413.9,120.8" fill="#000"/>
<line x1="1389.7" y1="220.3" x2="1349.8" y2="235.5" stroke="#000" stroke-width="6.6"/><polygon points="1328.0,243.8 1347.2,223.0 1356.1,246.6" fill="#000"/>
<line x1="1409.3" y1="238.3" x2="1412.6" y2="280.0" stroke="#000" stroke-width="6.6"/><polygon points="1414.5,303.2 1399.9,279.0 1425.0,277.0" fill="#000"/>
</svg></body></html>
